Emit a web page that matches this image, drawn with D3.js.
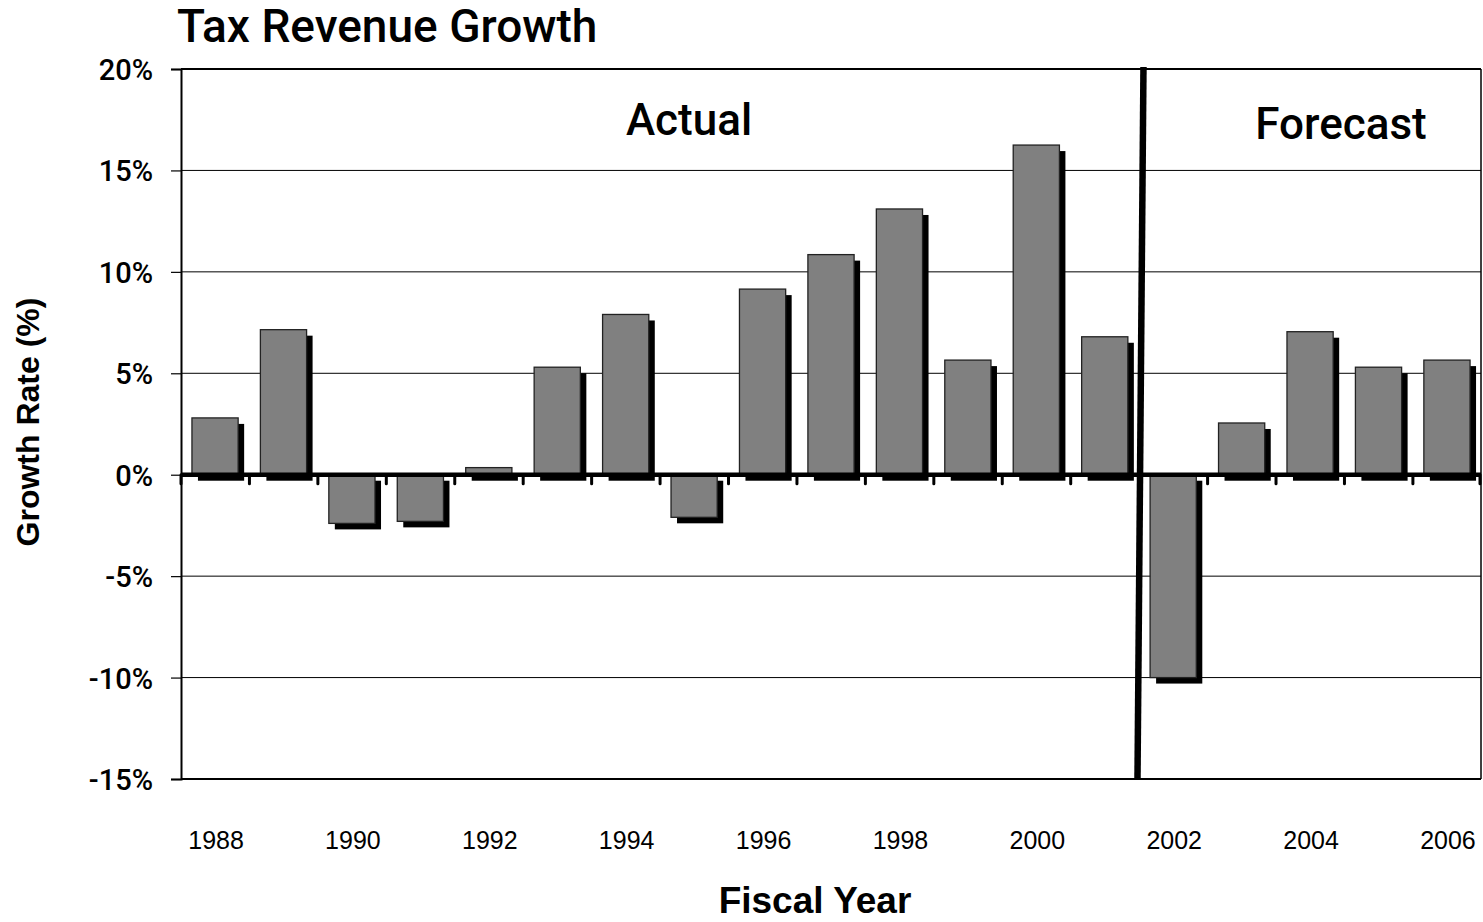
<!DOCTYPE html>
<html>
<head>
<meta charset="utf-8">
<script src="https://cdn.jsdelivr.net/npm/d3@7"></script>
<style>
  html, body { margin: 0; padding: 0; background: #fff; }
  svg { display: block; }
</style>
</head>
<body>
<svg id="chart" width="1483" height="922"></svg>
<script>
// Fiscal years and annual tax revenue growth (%)
const years = [1988, 1989, 1990, 1991, 1992, 1993, 1994, 1995, 1996, 1997,
               1998, 1999, 2000, 2001, 2002, 2003, 2004, 2005, 2006];
const growth = [2.8, 7.15, -2.4, -2.3, 0.35, 5.3, 7.9, -2.1, 9.15, 10.85,
                13.1, 5.65, 16.25, 6.8, -10.0, 2.55, 7.05, 5.3, 5.65];
const yTicks = [-15, -10, -5, 0, 5, 10, 15, 20];
const xLabelYears = [1988, 1990, 1992, 1994, 1996, 1998, 2000, 2002, 2004, 2006];
const firstForecastYear = 2002;

const svg = d3.select("#chart");
const margin = { left: 181, top: 69, right: 2, bottom: 143 };
const W = 1483, H = 922;
const iw = W - margin.left - margin.right;
const ih = H - margin.top - margin.bottom;

const x = d3.scaleBand().domain(years).range([0, iw]).paddingInner(0.325).paddingOuter(0.16);
const y = d3.scaleLinear().domain([-15, 20]).range([ih, 0]);

const g = svg.append("g").attr("transform", `translate(${margin.left},${margin.top})`);

const headFont = "Roboto, 'Liberation Sans', sans-serif";
const arialFont = "'Liberation Sans', Arial, sans-serif";

// horizontal gridlines
g.append("g").selectAll("line")
  .data(yTicks.filter(t => t !== 0))
  .join("line")
  .attr("x1", 0).attr("x2", iw)
  .attr("y1", d => y(d)).attr("y2", d => y(d))
  .attr("stroke", "#000")
  .attr("stroke-width", d => (d === 20 || d === -15) ? 2 : 1);

// right border
g.append("line").attr("x1", iw).attr("x2", iw).attr("y1", 0).attr("y2", ih)
  .attr("stroke", "#000").attr("stroke-width", 1.5);

// y axis
const yAxis = d3.axisLeft(y).tickValues(yTicks).tickSize(10).tickPadding(18)
  .tickFormat(d => d + "%");
const ya = g.append("g").call(yAxis);
ya.select(".domain").attr("stroke", "#000").attr("stroke-width", 2);
ya.selectAll(".tick line").attr("stroke", "#000").attr("stroke-width", 1.2);
ya.selectAll(".tick text")
  .attr("font-family", headFont).attr("font-weight", 500)
  .attr("font-size", 29).attr("fill", "#000").attr("dy", "0.36em");

// bar shadows then bars
const zero = y(0);
const bars = g.append("g");
bars.selectAll("rect.shadow")
  .data(years.map((yr, i) => ({ yr, v: growth[i] })))
  .join("rect")
  .attr("class", "shadow")
  .attr("x", d => x(d.yr) + 6)
  .attr("y", d => Math.min(y(d.v), zero) + 6)
  .attr("width", x.bandwidth())
  .attr("height", d => Math.abs(y(d.v) - zero))
  .attr("fill", "#000");
bars.selectAll("rect.bar")
  .data(years.map((yr, i) => ({ yr, v: growth[i] })))
  .join("rect")
  .attr("class", "bar")
  .attr("x", d => x(d.yr))
  .attr("y", d => Math.min(y(d.v), zero))
  .attr("width", x.bandwidth())
  .attr("height", d => Math.abs(y(d.v) - zero))
  .attr("fill", "#808080")
  .attr("stroke", "#222")
  .attr("stroke-width", 1.3);

// zero baseline with category boundary ticks
const step = x.step();
const x0 = x(years[0]) - x.paddingOuter() * step;
g.append("line").attr("x1", 0).attr("x2", iw).attr("y1", zero).attr("y2", zero)
  .attr("stroke", "#000").attr("stroke-width", 4.5);
g.append("g").selectAll("line")
  .data(d3.range(years.length + 1))
  .join("line")
  .attr("x1", i => Math.min(x0 + i * step, iw - 1)).attr("x2", i => Math.min(x0 + i * step, iw - 1))
  .attr("y1", zero).attr("y2", zero + 9)
  .attr("stroke", "#000").attr("stroke-width", 3).attr("stroke-linecap", "round");

// x labels (even years)
g.append("g").selectAll("text")
  .data(xLabelYears)
  .join("text")
  .attr("x", d => x(d) + x.bandwidth() / 2 + 1)
  .attr("y", ih + 70)
  .attr("text-anchor", "middle")
  .attr("font-family", arialFont).attr("font-size", 25).attr("fill", "#000")
  .text(d => d);

// divider between actual and forecast years
const divX = x(firstForecastYear) - (x.paddingInner() * step) / 2;
g.append("line")
  .attr("x1", divX + 4.5).attr("y1", -2)
  .attr("x2", divX - 1.5).attr("y2", ih + 1)
  .attr("stroke", "#000").attr("stroke-width", 6.5);

// section labels
g.append("text").attr("x", 508).attr("y", 66).attr("text-anchor", "middle")
  .attr("font-family", headFont).attr("font-weight", 500).attr("font-size", 44)
  .attr("fill", "#000").text("Actual");
g.append("text").attr("x", 1160).attr("y", 70).attr("text-anchor", "middle")
  .attr("font-family", headFont).attr("font-weight", 500).attr("font-size", 44)
  .attr("fill", "#000").text("Forecast");

// title
svg.append("text").attr("x", 177).attr("y", 42)
  .attr("font-family", headFont).attr("font-weight", 500).attr("font-size", 46)
  .attr("fill", "#000").text("Tax Revenue Growth");

// axis titles
svg.append("text").attr("x", 815).attr("y", 913).attr("text-anchor", "middle")
  .attr("font-family", arialFont).attr("font-weight", "bold").attr("font-size", 37)
  .attr("fill", "#000").text("Fiscal Year");
svg.append("text")
  .attr("transform", "translate(39,422) rotate(-90)")
  .attr("text-anchor", "middle")
  .attr("font-family", arialFont).attr("font-weight", "bold").attr("font-size", 32)
  .attr("fill", "#000").text("Growth Rate (%)");
</script>
</body>
</html>
